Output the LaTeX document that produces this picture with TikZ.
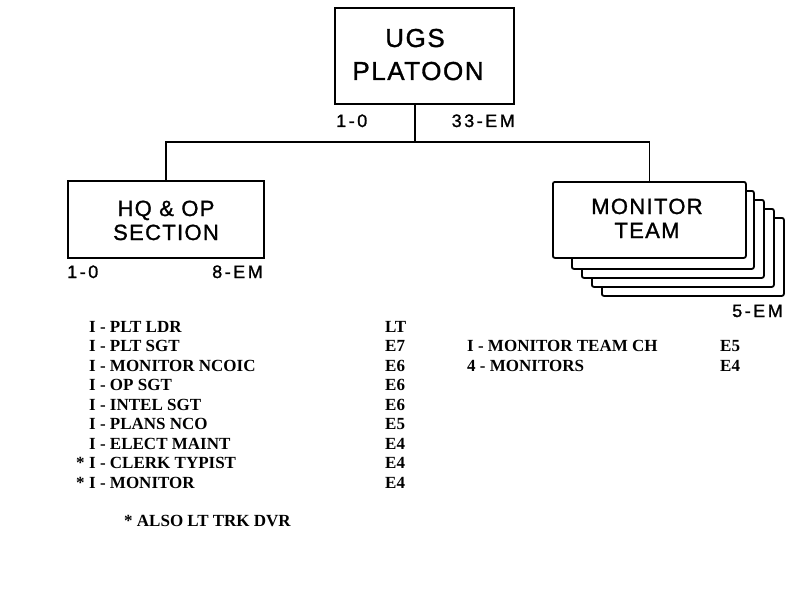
\documentclass[tikz,border=0pt]{standalone}
\usepackage{fontspec}
\setmainfont{Liberation Serif}
\newfontfamily\lettering{Liberation Sans}[FakeBold=1.2,LetterSpace=6]
\newfontfamily\labelfont{Liberation Sans}[FakeBold=1.2,LetterSpace=14]
\begin{document}
\begin{tikzpicture}[x=1pt,y=-1pt,
  orgbox/.style={draw,line width=1.8pt,fill=white,inner sep=0pt,anchor=north west},
  boxtext/.style={inner sep=0pt,anchor=base,font=\lettering\fontsize{22}{22}\selectfont},
  bigtext/.style={inner sep=0pt,anchor=base,font=\lettering\fontsize{26}{26}\selectfont},
  strength/.style={inner sep=0pt,font=\labelfont\fontsize{18}{18}\selectfont},
  listtext/.style={inner sep=0pt,anchor=base west,font=\bfseries\fontsize{17}{19.5}\selectfont},
  conn/.style={line width=1.8pt}]
\useasboundingbox (0,0) rectangle (788,602);
% UGS platoon
\node[orgbox,minimum width=179pt,minimum height=96pt] (ugs) at (334,7) {};
\node[bigtext] (ugs1) at (415,47) {UGS};
\node[bigtext] (ugs2) at (418,80) {PLATOON};
\node[strength,anchor=base west] (ugsO) at (336,127) {1-0};
\node[strength,anchor=base east] (ugsE) at (515,127) {33-EM};
% HQ & OP section
\node[orgbox,minimum width=196pt,minimum height=77pt] (hq) at (67,180) {};
\node[boxtext] (hq1) at (166,216) {HQ \& OP};
\node[boxtext] (hq2) at (166,240) {SECTION};
\node[strength,anchor=base west] (hqO) at (67,278) {1-0};
\node[strength,anchor=base east] (hqE) at (263,278) {8-EM};
% Monitor team stack
\foreach \k in {5,4,3,2}{
  \node[orgbox,rounded corners=2pt,minimum width=182pt,minimum height=78pt] (mon\k) at (551+10*\k,172+9*\k) {};
}
\node[orgbox,rounded corners=2pt,minimum width=193pt,minimum height=76pt] (mon) at (552,181) {};
\node[boxtext] (mon1) at (647,214) {MONITOR};
\node[boxtext] (mon2t) at (647,238) {TEAM};
\node[strength,anchor=base east] (monE) at (783,317) {5-EM};
% connectors
\coordinate (j) at (415,142);
\draw[conn] (ugs.south -| j) -- (j);
\draw[conn] (hq.north) -- (hq.north |- j) -- (mon.north |- j) -- (mon.north);
% HQ list
\foreach \t/\r [count=\i] in {I - PLT LDR/LT, I - PLT SGT/E7, I - MONITOR NCOIC/E6, I - OP SGT/E6, I - INTEL SGT/E6, I - PLANS NCO/E5, I - ELECT MAINT/E4}{
  \node[listtext] (hqd\i) at (89,312.5+19.5*\i) {\t};
  \node[listtext] (hqr\i) at (385,312.5+19.5*\i) {\r};
}
\node[listtext] (hqd8) at (89,468.5) {\llap{*\kern4.5pt}I - CLERK TYPIST};
\node[listtext] (hqr8) at (385,468.5) {E4};
\node[listtext] (hqd9) at (89,488) {\llap{*\kern4.5pt}I - MONITOR};
\node[listtext] (hqr9) at (385,488) {E4};
\node[listtext] (note) at (124,526) {* ALSO LT TRK DVR};
% Monitor team list
\node[listtext] (mtd1) at (467,351.5) {I - MONITOR TEAM CH};
\node[listtext] (mtr1) at (720,351.5) {E5};
\node[listtext] (mtd2) at (467,371) {4 - MONITORS};
\node[listtext] (mtr2) at (720,371) {E4};
\end{tikzpicture}
\end{document}
